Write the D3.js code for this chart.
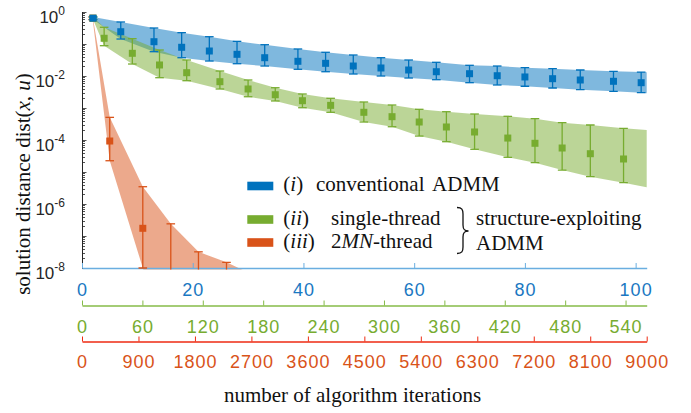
<!DOCTYPE html>
<html>
<head>
<meta charset="utf-8">
<script src="https://cdn.jsdelivr.net/npm/d3@7"></script>
<style>
body { margin: 0; background: #fff; }
</style>
</head>
<body>
<div id="chart"></div>
<script>
// (i) conventional ADMM -- x in conventional iterations
var blueX   = [2, 7, 13, 18, 23, 28, 33, 39, 44, 49, 54, 59, 64, 70, 75, 80, 85, 90, 96, 101];
var blueMid = [0.64, 0.242, 0.118, 0.0789, 0.0604, 0.0476, 0.0373, 0.0288, 0.0249, 0.0205, 0.0178, 0.0154, 0.0136, 0.0118, 0.0102, 0.00933, 0.00824, 0.0075, 0.00683, 0.00618];
var blueHi  = [0.70, 0.487, 0.316, 0.226, 0.169, 0.121, 0.0951, 0.0698, 0.0551, 0.0453, 0.0373, 0.0316, 0.0268, 0.0216, 0.0205, 0.0182, 0.0169, 0.0154, 0.0140, 0.0133];
var blueLo  = [0.58, 0.143, 0.0575, 0.0373, 0.0294, 0.0242, 0.0205, 0.0162, 0.0136, 0.01155, 0.0100, 0.00866, 0.00766, 0.00618, 0.00524, 0.00478, 0.00422, 0.00373, 0.00333, 0.00301];
var blueEnd = [102, 0.00288, 0.0132]; // band end: x, lo, hi

// (ii) single-thread structure-exploiting ADMM
var greenX   = [11, 22, 50, 77, 104, 137, 165, 192, 219, 247, 280, 308, 335, 362, 390, 423, 450, 477, 505, 538];
var greenMid = [0.64, 0.151, 0.0512, 0.0221, 0.01268, 0.00664, 0.00393, 0.0026, 0.00169, 0.00121, 0.000734, 0.000535, 0.000365, 0.000255, 0.000178, 0.000115, 7.89e-5, 5.62e-5, 3.73e-5, 2.55e-5];
var greenHi  = [0.70, 0.333, 0.1465, 0.0649, 0.0316, 0.0143, 0.0075, 0.0043, 0.00274, 0.00201, 0.00154, 0.00124, 0.00091, 0.000766, 0.000649, 0.000551, 0.000463, 0.000347, 0.000294, 0.000232];
var greenLo  = [0.58, 0.0885, 0.0237, 0.00885, 0.00713, 0.00393, 0.00225, 0.00166, 0.00102, 0.000734, 0.000365, 0.00026, 0.000133, 8.85e-5, 5.12e-5, 2.88e-5, 1.95e-5, 1.15e-5, 7.13e-6, 4.63e-6];
var greenEnd = [561, 3.33e-6, 0.000205];

// (iii) 2MN-thread structure-exploiting ADMM
var orangeX   = [171, 442, 969, 1415, 1856, 2303, 2750];
var orangeMid = [0.64, 9.3e-5, 1.74e-7, 3e-9, 8e-10, 3e-10, 1e-10];
var orangeHi  = [0.70, 5.1e-4, 3.47e-6, 2.4e-7, 3.2e-8, 1.5e-8, 5.8e-9];
var orangeLo  = [0.58, 2.25e-5, 1.0e-8, 1e-11, 1e-11, 1e-11, 1e-11];

var blueTicks = [0, 20, 40, 60, 80, 100];
var greenTicks = [0, 60, 120, 180, 240, 300, 360, 420, 480, 540];
var orangeTicks = [0, 900, 1800, 2700, 3600, 4500, 5400, 6300, 7200, 8100, 9000];
var yLabelExps = [0, -2, -4, -6, -8];

var W = 691, H = 413;
var plotLeft = 82, plotRight = 646.7, plotTop = 12, plotBottom = 268;
var serif = "'Liberation Serif', 'Times New Roman', serif";
var sans = "'Liberation Sans', Arial, Helvetica, sans-serif";

var svg = d3.select("#chart").append("svg")
    .attr("width", W)
    .attr("height", H)
    .style("background", "#fff");

var y = d3.scaleLog().domain([1e-8, 1]).range([plotBottom, plotTop]);
var xBlue = d3.scaleLinear().domain([0, 102]).range([plotLeft, plotRight]);
var xGreen = d3.scaleLinear().domain([0, 561]).range([plotLeft, plotRight]);
var xOrange = d3.scaleLinear().domain([0, 9000]).range([plotLeft, plotRight]);

var series = [
  {x: xBlue, xs: blueX, mid: blueMid, lo: blueLo, hi: blueHi, end: blueEnd, col: "#0072BD"},
  {x: xGreen, xs: greenX, mid: greenMid, lo: greenLo, hi: greenHi, end: greenEnd, col: "#77AC30"},
  {x: xOrange, xs: orangeX, mid: orangeMid, lo: orangeLo, hi: orangeHi, end: null, col: "#D95319"}
];

svg.append("defs").append("clipPath").attr("id", "plotClip")
  .append("rect")
  .attr("x", plotLeft).attr("y", 0)
  .attr("width", plotRight - plotLeft + 1).attr("height", plotBottom + 1.5);

// shaded bands
var bands = svg.append("g").attr("clip-path", "url(#plotClip)");
series.forEach(function(s) {
  var pts = s.xs.map(function(v, i) { return {x: v, lo: s.lo[i], hi: s.hi[i]}; });
  if (s.end) pts.push({x: s.end[0], lo: s.end[1], hi: s.end[2]});
  var area = d3.area()
      .x(function(d) { return s.x(d.x); })
      .y0(function(d) { return y(d.lo); })
      .y1(function(d) { return y(d.hi); });
  bands.append("path")
    .attr("d", area(pts))
    .style("fill", s.col)
    .style("fill-opacity", 0.5)
    .style("stroke", "none");
});

// y axis (black, ticks inward)
var yAxis = svg.append("g");
yAxis.append("line")
  .attr("x1", plotLeft + 0.5).attr("x2", plotLeft + 0.5)
  .attr("y1", plotTop).attr("y2", plotBottom)
  .style("stroke", "#262626").style("stroke-width", 1);
y.ticks().forEach(function(t) {
  var e = Math.log10(t);
  var major = Math.abs(e - Math.round(e)) < 1e-9;
  var yy = Math.round(y(t)) + 0.5;
  yAxis.append("line")
    .attr("x1", plotLeft).attr("x2", plotLeft + (major ? 4.5 : 3))
    .attr("y1", yy).attr("y2", yy)
    .style("stroke", "#262626").style("stroke-width", 0.8);
});
yLabelExps.forEach(function(e) {
  var t = yAxis.append("text")
    .attr("x", 65)
    .attr("y", y(Math.pow(10, e)) + 11)
    .attr("text-anchor", "end")
    .style("font-family", sans)
    .style("font-size", "17px")
    .style("fill", "#262626");
  t.append("tspan").text("10");
  t.append("tspan").attr("dy", -8.5).style("font-size", "12px").text(String(e));
});

// three x axes
function xAxis(scale, ticks, yPos, lineCol, textCol, pad) {
  var g = svg.append("g")
    .attr("transform", "translate(0," + yPos + ")")
    .call(d3.axisBottom(scale).tickValues(ticks).tickFormat(d3.format("d"))
      .tickSize(-5).tickSizeOuter(0).tickPadding(pad));
  g.select(".domain").style("stroke", lineCol).style("stroke-width", 1.6);
  g.selectAll(".tick line").style("stroke", lineCol).style("stroke-width", 1);
  g.selectAll(".tick text")
    .style("fill", textCol)
    .style("font-family", sans)
    .style("font-size", "18px")
    .style("letter-spacing", "1px");
  return g;
}
xAxis(xBlue, blueTicks, plotBottom, "#6aaee0", "#1a78c2", 15.3);
xAxis(xGreen, greenTicks, 305.5, "#86bb48", "#77AC30", 14.3);
xAxis(xOrange, orangeTicks, 341.5, "#ee2a12", "#D95319", 14);

// error bars and markers
var marks = svg.append("g").attr("clip-path", "url(#plotClip)");
series.slice().reverse().forEach(function(s) {
  s.xs.forEach(function(v, i) {
    var cx = s.x(v), y0 = y(s.lo[i]), y1 = y(s.hi[i]);
    marks.append("line")
      .attr("x1", cx).attr("x2", cx).attr("y1", y0).attr("y2", y1)
      .style("stroke", s.col).style("stroke-width", 1.3);
    [y0, y1].forEach(function(yy) {
      marks.append("line")
        .attr("x1", cx - 4.3).attr("x2", cx + 4.3).attr("y1", yy).attr("y2", yy)
        .style("stroke", s.col).style("stroke-width", 1.3);
    });
    marks.append("rect")
      .attr("x", cx - 3.5).attr("y", y(s.mid[i]) - 3.5)
      .attr("width", 7).attr("height", 7)
      .style("fill", s.col);
  });
});

// legend
var legend = svg.append("g");
var legendRows = [
  {col: "#0072BD", y: 186, num: "i", label: ["conventional ADMM"], lx: 316},
  {col: "#77AC30", y: 219.5, num: "ii", label: ["single-thread"], lx: 331},
  {col: "#D95319", y: 242.5, num: "iii", label: null, lx: 331}
];
legendRows.forEach(function(r) {
  legend.append("rect")
    .attr("x", 247.3).attr("y", r.y - 4.3)
    .attr("width", 26).attr("height", 8.6)
    .style("fill", r.col);
  var base = r.y + 5;
  var t = legend.append("text")
    .attr("x", 283.3).attr("y", base)
    .style("font-family", serif).style("font-size", "21px").style("fill", "#111");
  t.append("tspan").text("(");
  t.append("tspan").style("font-style", "italic").text(r.num);
  t.append("tspan").text(")");
  var l = legend.append("text")
    .attr("x", r.lx).attr("y", base)
    .style("font-family", serif).style("font-size", "21px").style("fill", "#111")
    .style("word-spacing", "3.5px");
  if (r.label) {
    l.text(r.label[0]);
  } else {
    l.append("tspan").text("2");
    l.append("tspan").style("font-style", "italic").text("MN");
    l.append("tspan").text("-thread");
  }
});
legend.append("path")
  .attr("d", "M457,207.5 C462,207.5 463,209.5 463,214 L463,225 C463,229.5 464.5,231 468.5,231 C464.5,231 463,232.5 463,237 L463,247 C463,251.5 462,253.5 457,253.5")
  .style("fill", "none").style("stroke", "#111").style("stroke-width", 1.3);
legend.append("text")
  .attr("x", 476).attr("y", 225)
  .style("font-family", serif).style("font-size", "21px").style("fill", "#111")
  .text("structure-exploiting");
legend.append("text")
  .attr("x", 476).attr("y", 250)
  .style("font-family", serif).style("font-size", "21px").style("fill", "#111")
  .text("ADMM");

// axis titles
var yl = svg.append("text")
  .attr("transform", "translate(30,184) rotate(-90)")
  .attr("text-anchor", "middle")
  .style("font-family", serif).style("font-size", "21px").style("fill", "#111");
yl.append("tspan").text("solution distance dist(");
yl.append("tspan").style("font-style", "italic").text("x");
yl.append("tspan").text(", ");
yl.append("tspan").style("font-style", "italic").text("u");
yl.append("tspan").text(")");

svg.append("text")
  .attr("x", 352.5).attr("y", 401.5)
  .attr("text-anchor", "middle")
  .style("font-family", serif).style("font-size", "21px").style("fill", "#111")
  .text("number of algorithm iterations");
</script>
</body>
</html>
